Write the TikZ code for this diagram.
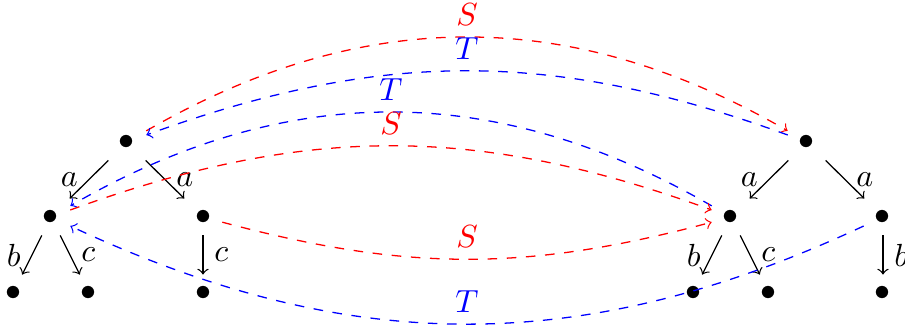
\documentclass[tikz,border=0pt]{standalone}
\begin{document}
\begin{tikzpicture}[x=0.3125pt,y=-0.3125pt,
  pt/.style={inner sep=0.3333em},
  tr/.style={->},
  rel/.style={->,dashed}]
\useasboundingbox (0,0) rectangle (905,328);
% left tree
\node[pt] (L) at (127,142) {$\bullet$};
\node[pt] (L1) at (51,217) {$\bullet$};
\node[pt] (L2) at (203,217) {$\bullet$};
\node[pt] (L11) at (13,293) {$\bullet$};
\node[pt] (L12) at (89,293) {$\bullet$};
\node[pt] (L21) at (203,293) {$\bullet$};
% right tree
\node[pt] (R) at (807,142) {$\bullet$};
\node[pt] (R1) at (731,217) {$\bullet$};
\node[pt] (R2) at (883,217) {$\bullet$};
\node[pt] (R11) at (693,293) {$\bullet$};
\node[pt] (R12) at (769,293) {$\bullet$};
\node[pt] (R21) at (883,293) {$\bullet$};
% tree edges
\draw[tr] (L) -- node[left]{$a$} (L1);
\draw[tr] (L) -- node[right]{$a$} (L2);
\draw[tr] (L1) -- node[left]{$b$} (L11);
\draw[tr] (L1) -- node[right]{$c$} (L12);
\draw[tr] (L2) -- node[right]{$c$} (L21);
\draw[tr] (R) -- node[left]{$a$} (R1);
\draw[tr] (R) -- node[right]{$a$} (R2);
\draw[tr] (R1) -- node[left]{$b$} (R11);
\draw[tr] (R1) -- node[right]{$c$} (R12);
\draw[tr] (R2) -- node[right]{$b$} (R21);
% relations
\draw[rel,red] (L) to[bend left=30] node[above]{$S$} (R);
\draw[rel,blue] (R) to[bend right=20] node[above]{$T$} (L);
\draw[rel,blue] (R1) to[bend right=30] node[above]{$T$} (L1);
\draw[rel,red] (L1) to[bend left=20] node[above]{$S$} (R1);
\draw[rel,red] (L2) to[bend right=15] node[above]{$S$} (R1);
\draw[rel,blue] (R2) to[bend left=25] node[above]{$T$} (L1);
\end{tikzpicture}
\end{document}
